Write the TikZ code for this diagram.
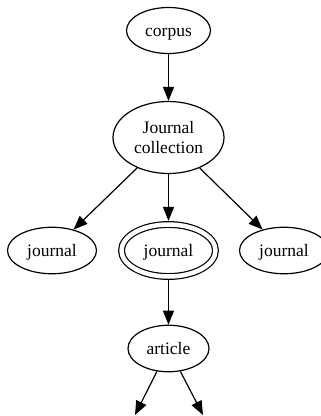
\documentclass[tikz,border=0pt]{standalone}
\usepackage{fontspec}
\setmainfont{Liberation Serif}
\usetikzlibrary{shapes.geometric,arrows.meta}
\begin{document}
\begin{tikzpicture}[x=1pt,y=-1pt,
  nd/.style={ellipse, draw, line width=1.2pt, inner sep=0pt, text height=15pt, text depth=3pt, font=\fontsize{17.5}{20}\selectfont, align=center},
  edge/.style={line width=1.2pt, -{Triangle[length=14pt,width=11pt]}}]
\useasboundingbox (0,0) rectangle (321,416);
\clip (0,0) rectangle (321,416);
\node[nd, minimum width=84pt, minimum height=46pt] (corpus) at (168.5,30.5) {corpus};
\node[nd, text height=, text depth=, minimum width=111pt, minimum height=72pt] (coll) at (168.5,137.5) {\rule{0pt}{4pt}Journal\\collection};
\node[nd, minimum width=89pt, minimum height=46.5pt] (j1) at (52,250.5) {journal};
\node[nd, double, double distance=4.5pt, outer sep=3.6pt, minimum width=94pt, minimum height=52pt] (j2) at (168.5,250.5) {journal};
\node[nd, minimum width=89pt, minimum height=46.5pt] (j3) at (284,250.5) {journal};
\node[nd, minimum width=81pt, minimum height=46.5pt] (art) at (168.5,348.5) {article};
\coordinate (c1) at (135,415);
\coordinate (c2) at (203,415);
\draw[edge] (corpus) -- (coll);
\draw[edge] (coll) -- (j1);
\draw[edge] (coll) -- (j2);
\draw[edge] (coll) -- (j3);
\draw[edge] (j2) -- (art);
\draw[edge] (art) -- (c1);
\draw[edge] (art) -- (c2);
\end{tikzpicture}
\end{document}
